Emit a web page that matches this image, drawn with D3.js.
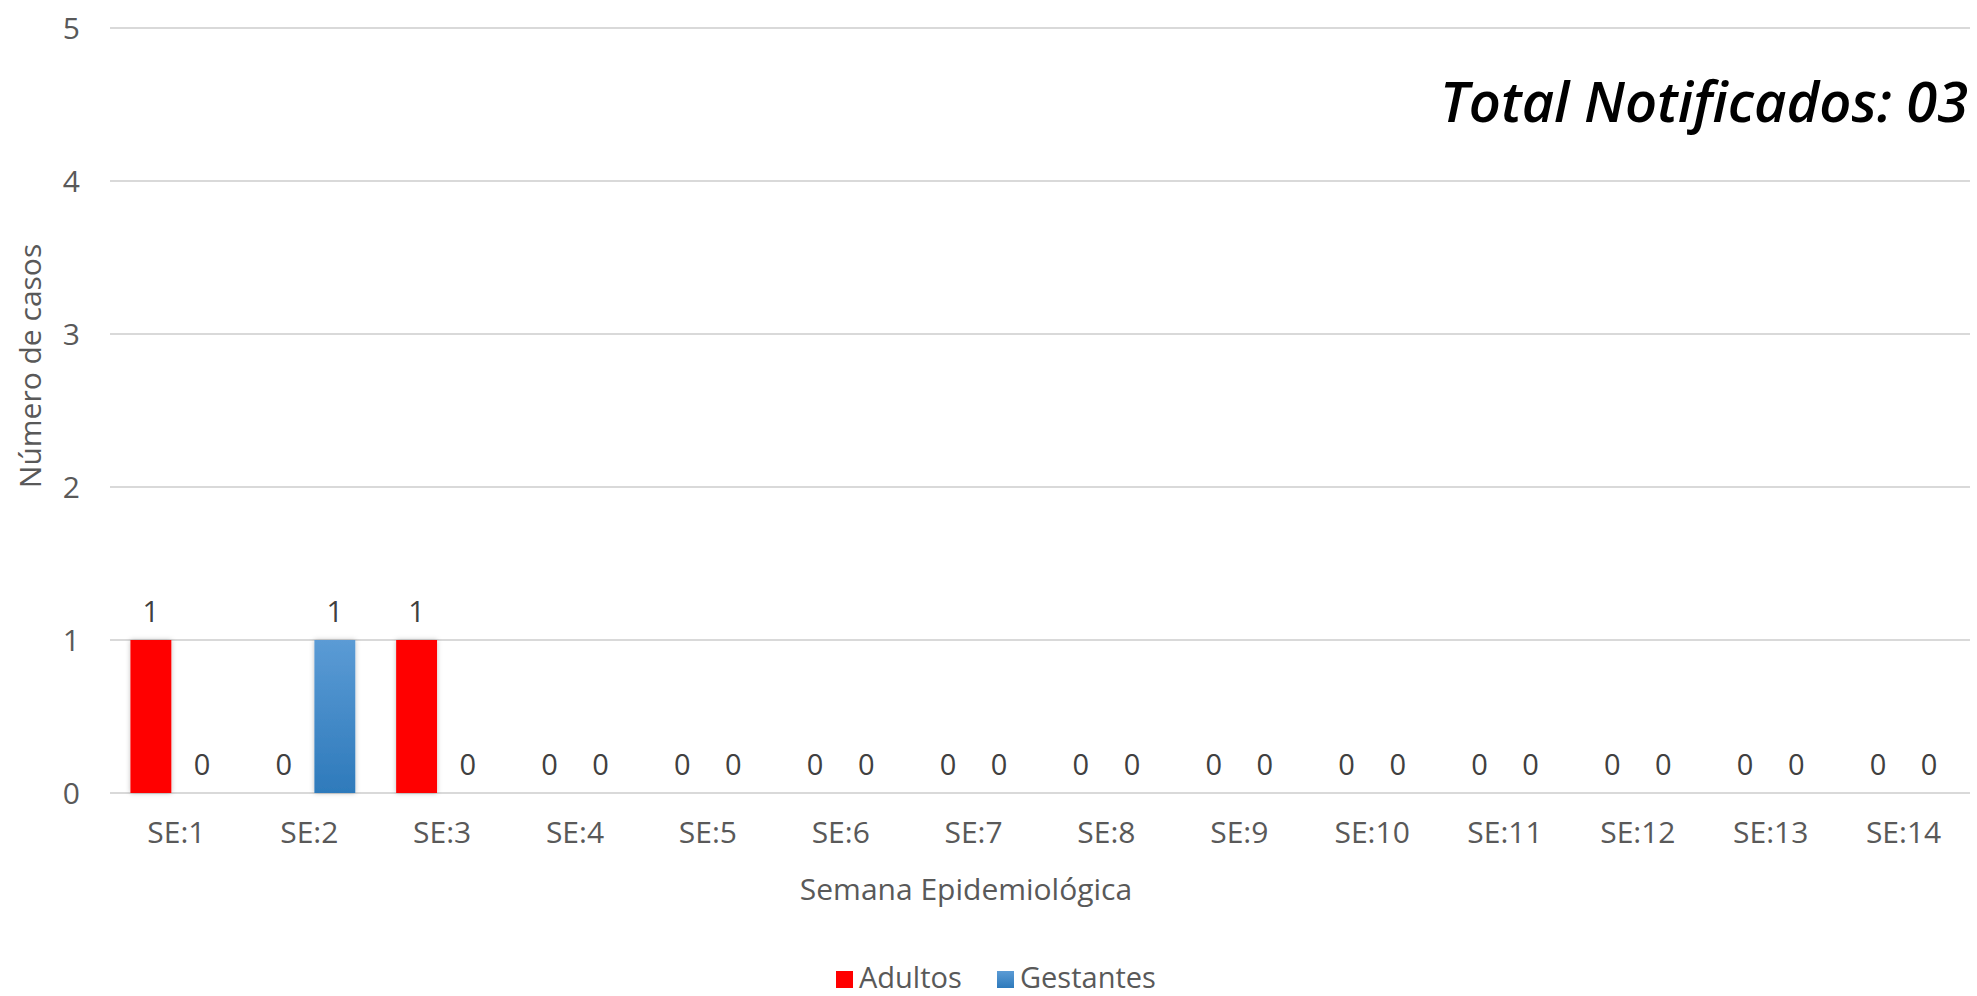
<!DOCTYPE html>
<html>
<head>
<meta charset="utf-8">
<script src="https://cdn.jsdelivr.net/npm/d3@7"></script>
<style>
  body { margin: 0; background: #fff; }
  text { font-family: "Open Sans", sans-serif; fill: #595959; }
</style>
</head>
<body>
<svg id="chart" width="1977" height="996"></svg>
<script>
const categories = ["SE:1", "SE:2", "SE:3", "SE:4", "SE:5", "SE:6", "SE:7", "SE:8", "SE:9", "SE:10", "SE:11", "SE:12", "SE:13", "SE:14"];
const adultos = [1, 0, 1, 0, 0, 0, 0, 0, 0, 0, 0, 0, 0, 0];
const gestantes = [0, 1, 0, 0, 0, 0, 0, 0, 0, 0, 0, 0, 0, 0];
const seriesNames = ["Adultos", "Gestantes"];
const yTicks = [0, 1, 2, 3, 4, 5];

let plotLeft = 110,
  plotRight = 1970,
  plotTop = 28,
  plotBottom = 793;

let svg = d3.select("#chart");

let defs = svg.append("defs");
let grad = defs.append("linearGradient")
  .attr("id", "blueGrad")
  .attr("x1", 0).attr("y1", 0).attr("x2", 0).attr("y2", 1);
grad.append("stop").attr("offset", "0%").attr("stop-color", "#5b9bd5");
grad.append("stop").attr("offset", "100%").attr("stop-color", "#2e7abb");

let shadow = defs.append("filter").attr("id", "shadow")
  .attr("x", "-30%").attr("y", "-10%").attr("width", "160%").attr("height", "120%");
shadow.append("feDropShadow")
  .attr("dx", 0).attr("dy", 0).attr("stdDeviation", 2.5)
  .attr("flood-color", "#000").attr("flood-opacity", 0.25);

let x = d3.scaleBand().domain(categories).range([plotLeft, plotRight]);
let barW = x.bandwidth() / 3.25;
let groupStart = (x.bandwidth() - 2.25 * barW) / 2;
let xSub = d3.scaleBand()
  .domain(seriesNames)
  .range([groupStart, groupStart + 2.25 * barW])
  .paddingInner(0.2);

let y = d3.scaleLinear().domain([0, 5]).range([plotBottom, plotTop]);

// gridlines
svg.append("g")
  .selectAll("line")
  .data(yTicks)
  .join("line")
  .attr("x1", plotLeft)
  .attr("x2", plotRight)
  .attr("y1", (d) => y(d))
  .attr("y2", (d) => y(d))
  .attr("stroke", "#d9d9d9")
  .attr("stroke-width", 2);

// y tick labels
svg.append("g")
  .selectAll("text")
  .data(yTicks)
  .join("text")
  .attr("x", 80)
  .attr("y", (d) => y(d) + 11)
  .attr("text-anchor", "end")
  .style("font-size", "30px")
  .text((d) => d);

let rows = categories.map((c, i) => ({ cat: c, values: [adultos[i], gestantes[i]] }));
let colors = { Adultos: "#ff0000", Gestantes: "url(#blueGrad)" };

let groups = svg.append("g")
  .selectAll("g")
  .data(rows)
  .join("g")
  .attr("transform", (d) => `translate(${x(d.cat)},0)`);

groups.selectAll("rect")
  .data((d) => seriesNames.map((s, j) => ({ s: s, v: d.values[j] })).filter((e) => e.v > 0))
  .join("rect")
  .attr("x", (d) => xSub(d.s))
  .attr("width", xSub.bandwidth())
  .attr("y", (d) => y(d.v))
  .attr("height", (d) => y(0) - y(d.v))
  .attr("fill", (d) => colors[d.s])
  .attr("filter", "url(#shadow)");

groups.selectAll("text.val")
  .data((d) => seriesNames.map((s, j) => ({ s: s, v: d.values[j] })))
  .join("text")
  .attr("class", "val")
  .attr("x", (d) => xSub(d.s) + xSub.bandwidth() / 2)
  .attr("y", (d) => y(d.v) - 18)
  .attr("text-anchor", "middle")
  .style("font-size", "29px")
  .style("fill", "#404040")
  .text((d) => d.v);

// category labels
svg.append("g")
  .selectAll("text")
  .data(categories)
  .join("text")
  .attr("x", (d) => x(d) + x.bandwidth() / 2)
  .attr("y", 843)
  .attr("text-anchor", "middle")
  .style("font-size", "30px")
  .text((d) => d);

// axis titles
svg.append("text")
  .attr("x", 966)
  .attr("y", 900)
  .attr("text-anchor", "middle")
  .style("font-size", "30px")
  .text("Semana Epidemiológica");

svg.append("text")
  .attr("transform", "translate(41,366) rotate(-90)")
  .attr("text-anchor", "middle")
  .style("font-size", "30px")
  .text("Número de casos");

// total
svg.append("text")
  .attr("x", 1968)
  .attr("y", 122)
  .attr("text-anchor", "end")
  .style("font-size", "56px")
  .style("font-weight", "600")
  .style("font-style", "italic")
  .style("fill", "#000")
  .text("Total Notificados: 03");

// legend
let legend = svg.append("g");
let legendX = [836, 997];
seriesNames.forEach((s, i) => {
  legend.append("rect")
    .attr("x", legendX[i])
    .attr("y", 971)
    .attr("width", 17)
    .attr("height", 17)
    .attr("fill", colors[s]);
  legend.append("text")
    .attr("x", legendX[i] + 23)
    .attr("y", 988)
    .style("font-size", "29px")
    .text(s);
});
</script>
</body>
</html>
